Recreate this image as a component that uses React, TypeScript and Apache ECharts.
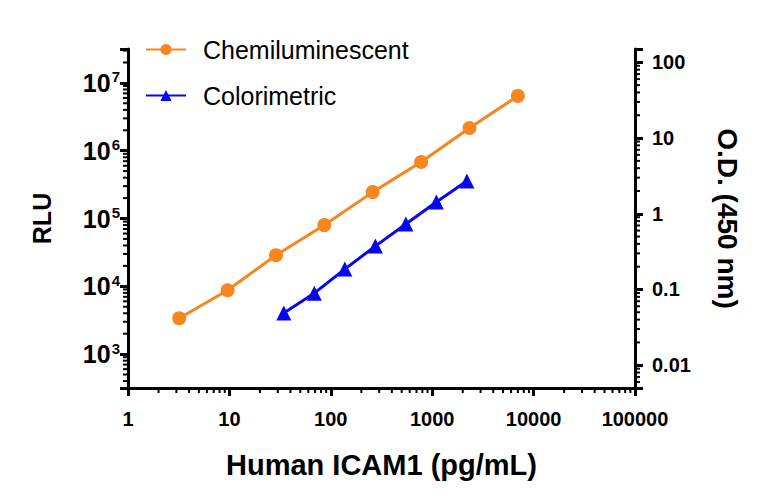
import React, { useEffect, useRef } from "react";
import * as echarts from "echarts";

// Chemiluminescent (left axis, RLU)
const chemX = [3.2, 9.6, 28.8, 86.4, 259, 778, 2333, 7000];
const chemY = [3380, 8750, 28800, 80000, 245000, 681000, 2160000, 6430000];
// Colorimetric (right axis, O.D.)
const colX = [34.4, 68.75, 137.5, 275, 550, 1100, 2200];
const colY = [0.0488, 0.0895, 0.186, 0.374, 0.731, 1.43, 2.7];

// axis ranges
const xRange = [1, 100000];
const leftRange = [Math.pow(10, 2.5), Math.pow(10, 7.5)];
const rightRange = [0.005, 150];

const FONT = "'Liberation Sans', Arial, Helvetica, sans-serif";
const ORANGE = "#F7861E";
const BLUE = "#0606F4";

// minor tick values (2..9 x 10^k) inside an axis range
function minorTicks(lo: number, hi: number): number[] {
  const out: number[] = [];
  const e0 = Math.floor(Math.log10(lo));
  const e1 = Math.ceil(Math.log10(hi));
  for (let e = e0; e <= e1; e++) {
    for (let m = 2; m <= 9; m++) {
      const v = m * Math.pow(10, e);
      if (v >= lo * 0.9999 && v <= hi * 1.0001) out.push(v);
    }
  }
  return out;
}

function exp10(v: number): number | null {
  const l = Math.log10(v);
  const r = Math.round(l);
  return Math.abs(l - r) < 1e-6 ? r : null;
}

function buildOption(): any {
  const mkTick = (side: string, yIdx: number, data: number[][]) => ({
    type: "custom",
    yAxisIndex: yIdx,
    silent: true,
    z: 10,
    data,
    renderItem: (_p: any, api: any) => {
      const pt = api.coord([api.value(0), api.value(1)]);
      const len = 5;
      let x2 = pt[0], y2 = pt[1];
      if (side === "bottom") y2 += len;
      else if (side === "left") x2 -= len;
      else x2 += len;
      return { type: "line", shape: { x1: pt[0], y1: pt[1], x2, y2 }, style: { stroke: "#000", lineWidth: 2 } };
    },
  });
  const mkLine = () => ({ show: true, onZero: false, lineStyle: { color: "#000", width: 3 } });
  const mkMajorTick = () => ({ show: true, inside: false, length: 8, lineStyle: { color: "#000", width: 3 } });

  return {
    animation: false,
    backgroundColor: "#fff",
    textStyle: { fontFamily: FONT },
    grid: { left: 128, right: 133, top: 49, bottom: 116, containLabel: false },
    legend: {
      orient: "vertical",
      left: 140,
      top: 32,
      itemWidth: 40,
      itemHeight: 14,
      itemGap: 21,
      data: ["Chemiluminescent", "Colorimetric"],
      textStyle: { fontSize: 25, color: "#000", padding: [0, 0, 0, 12] },
    },
    xAxis: {
      type: "log",
      min: xRange[0],
      max: xRange[1],
      axisLine: mkLine(),
      axisTick: mkMajorTick(),
      splitLine: { show: false },
      axisLabel: {
        color: "#000",
        fontSize: 20,
        fontWeight: "bold",
        margin: 21,
        formatter: (v: number) => {
          const e = exp10(v);
          return e === null ? "" : String(Math.pow(10, e));
        },
      },
      name: "Human ICAM1 (pg/mL)",
      nameLocation: "middle",
      nameGap: 62,
      nameTextStyle: { color: "#000", fontSize: 29, fontWeight: "bold" },
    },
    yAxis: [
      {
        type: "log",
        position: "left",
        min: leftRange[0],
        max: leftRange[1],
        axisLine: mkLine(),
        axisTick: mkMajorTick(),
        splitLine: { show: false },
        axisLabel: {
          color: "#000",
          fontSize: 25,
          fontWeight: "bold",
          margin: 8,
          formatter: (v: number) => {
            const e = exp10(v);
            return e === null ? "" : `10{sup|${e}}`;
          },
          rich: {
            sup: { fontSize: 15, fontWeight: "bold", color: "#000", padding: [0, 0, 12, 1] },
          },
        },
        name: "RLU",
        nameLocation: "middle",
        nameGap: 74,
        nameTextStyle: { color: "#000", fontSize: 25, fontWeight: "bold" },
      },
      {
        type: "log",
        position: "right",
        min: rightRange[0],
        max: rightRange[1],
        axisLine: mkLine(),
        axisTick: mkMajorTick(),
        splitLine: { show: false },
        axisLabel: {
          color: "#000",
          fontSize: 20,
          fontWeight: "bold",
          margin: 17,
          formatter: (v: number) => {
            const e = exp10(v);
            if (e === null) return "";
            return e >= 0 ? String(Math.pow(10, e)) : Math.pow(10, e).toFixed(-e);
          },
        },
        name: "O.D. (450 nm)",
        nameLocation: "middle",
        nameRotate: -90,
        nameGap: 78,
        nameTextStyle: { color: "#000", fontSize: 28, fontWeight: "bold" },
      },
    ],
    series: [
      {
        name: "Chemiluminescent",
        type: "line",
        yAxisIndex: 0,
        data: chemX.map((x, i) => [x, chemY[i]]),
        symbol: "circle",
        symbolSize: 14,
        itemStyle: { color: ORANGE },
        lineStyle: { color: ORANGE, width: 3 },
      },
      {
        name: "Colorimetric",
        type: "line",
        yAxisIndex: 1,
        data: colX.map((x, i) => [x, colY[i]]),
        symbol: "triangle",
        symbolSize: 15,
        itemStyle: { color: BLUE },
        lineStyle: { color: BLUE, width: 3 },
      },
      mkTick("bottom", 0, minorTicks(xRange[0], xRange[1]).map((v) => [v, leftRange[0]])),
      mkTick("left", 0, minorTicks(leftRange[0], leftRange[1]).map((v) => [xRange[0], v])),
      mkTick("right", 1, minorTicks(rightRange[0], rightRange[1]).map((v) => [xRange[1], v])),
    ],
  };
}

export default function App() {
  const ref = useRef<HTMLDivElement>(null);
  useEffect(() => {
    if (!ref.current) return;
    const chart = echarts.init(ref.current, undefined, { renderer: "svg" });
    chart.setOption(buildOption());
    return () => chart.dispose();
  }, []);
  return <div ref={ref} style={{ position: "fixed", left: 0, top: 0, width: 768, height: 504 }} />;
}
